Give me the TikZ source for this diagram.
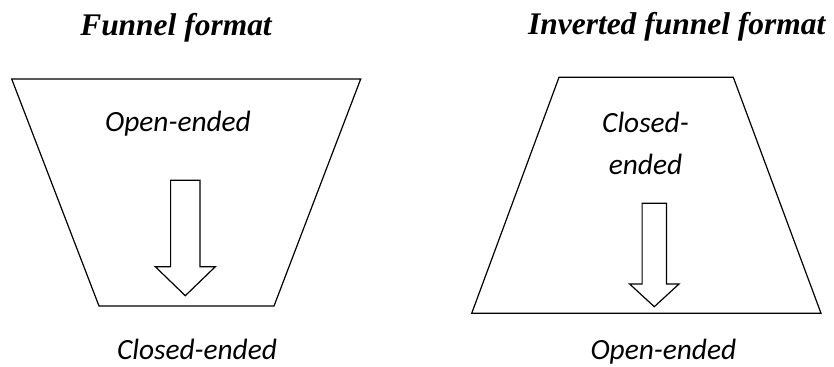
\documentclass[tikz,border=0pt]{standalone}
\usepackage{fontspec}
\setmainfont{Liberation Serif}
\newfontfamily\calibri{Carlito}
\usetikzlibrary{calc}

\begin{document}
\begin{tikzpicture}[x=0.75pt,y=-0.75pt,line width=0.9pt,line join=miter]
  \tikzset{
    heading/.style={anchor=base,font=\fontsize{23.6}{27}\selectfont\bfseries\itshape},
    label/.style={anchor=base,font=\calibri\fontsize{22}{26}\selectfont\itshape},
  }
  \useasboundingbox (0,0) rectangle (834,367);
  % block arrow: \blockarrow{xmid}{ytop}{shaft half}{ybase}{head half}{ytip}
  \newcommand{\blockarrow}[6]{\draw (#1-#3,#2) -- (#1+#3,#2) -- (#1+#3,#4) -- (#1+#5,#4)
     -- (#1,#6) -- (#1-#5,#4) -- (#1-#3,#4) -- cycle;}
  % --- funnel ---
  \node[heading] (funnel) at (176,36) {Funnel format};
  \draw (11.7,79) -- (360.7,79) -- (274,306) -- (99,306) -- cycle;
  \node[label] (fopen) at (178,131.7) {Open-ended};
  \blockarrow{185.3}{180.3}{14.7}{266.7}{30}{295.7}
  \node[label] (fclosed) at (197,359) {Closed-ended};
  % --- inverted funnel ---
  \node[heading] (inverted) at (676.7,35) {Inverted funnel format};
  \draw (559,77.3) -- (733.3,77.3) -- (821,313.3) -- (471.7,313.3) -- cycle;
  \node[label] (iclosed) at (645.5,132.7) {Closed-};
  \node[label] (iended) at (645.5,174) {ended};
  \blockarrow{654.3}{203.3}{12.2}{284}{24.7}{306.7}
  \node[label] (iopen) at (663.3,359) {Open-ended};
\end{tikzpicture}
\end{document}
